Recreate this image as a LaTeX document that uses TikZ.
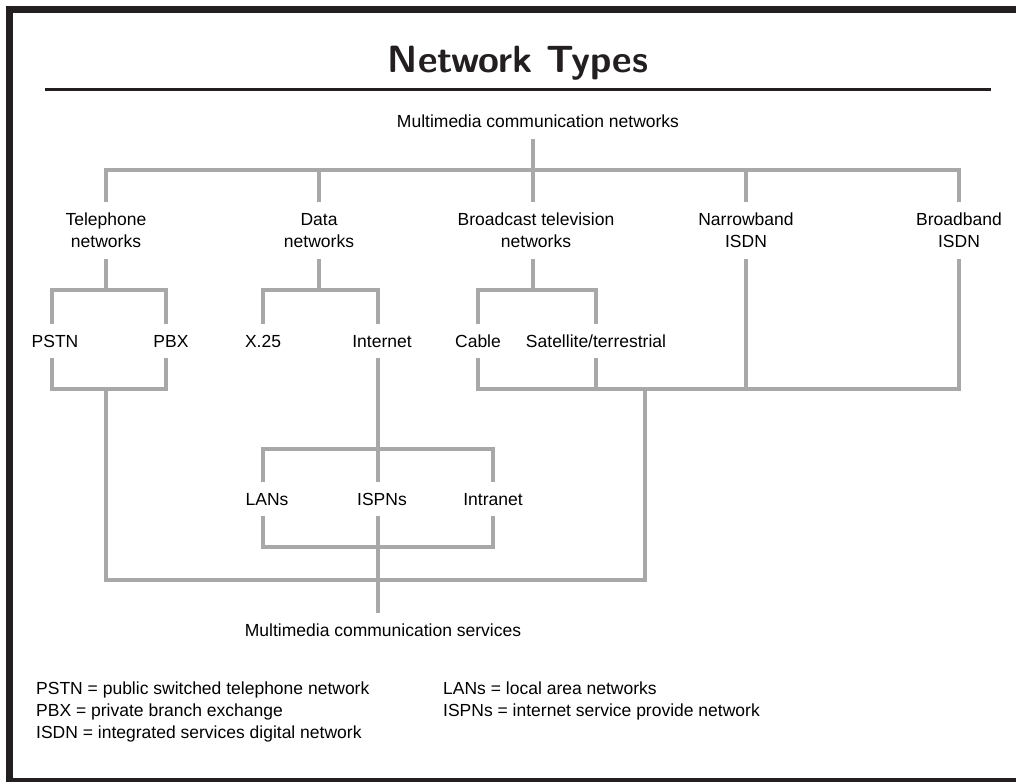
\documentclass[tikz,border=0pt]{standalone}
\usepackage{fontspec}
\setmainfont{Liberation Sans}
\definecolor{inkdark}{RGB}{35,31,32}
\definecolor{linkgray}{RGB}{168,168,168}
\newcommand{\lblfont}{\fontsize{17.5}{22}\selectfont}
\tikzset{
  link/.style={draw=linkgray, line width=4.2pt, line join=miter},
  lbl/.style={font=\lblfont, inner sep=0pt, outer xsep=0pt, outer ysep=10pt,
              text height=13pt, text depth=1pt, anchor=base},
  % two-line labels are placed by the baseline of their last line
  lbltwo/.style={lbl, align=center, text height=35pt, text depth=2pt},
  keytext/.style={font=\lblfont, inner sep=0pt, align=left, anchor=base west},
}
\begin{document}
\begin{tikzpicture}[x=1pt, y=-1pt]
\useasboundingbox (0,0) rectangle (1016,781);
\clip (0,0) rectangle (1016,781);

% outer frame and title
\draw[inkdark, line width=7pt] (9.5,9.5) rectangle (1030,781.5);
\node[font=\sffamily\bfseries\fontsize{38}{40}\selectfont, inner sep=0pt, anchor=base, text=inkdark]
  (title) at (518,73) {Network Types};
\coordinate (ruleL) at (45,89.5);
\coordinate (ruleR) at (991,89.5);
\draw[inkdark, line width=3pt] (ruleL) -- (ruleR);

% labels
\node[lbl] (top) at (538,128) {Multimedia communication networks};
\node[lbltwo] (tel) at (106,247) {Telephone\\networks};
\node[lbltwo] (data) at (319,247) {Data\\networks};
\node[lbltwo] (bc) at (536,247) {Broadcast television\\networks};
\node[lbltwo] (nb) at (746,247) {Narrowband\\ISDN};
\node[lbltwo] (bb) at (959,247) {Broadband\\ISDN};
\node[lbl] (pstn) at (55,347) {PSTN};
\node[lbl] (pbx) at (171,347) {PBX};
\node[lbl] (x25) at (263,347) {X.25};
\node[lbl] (inet) at (382,347) {Internet};
\node[lbl] (cable) at (478,347) {Cable};
\node[lbl] (sat) at (596,347) {Satellite/terrestrial};
\node[lbl] (lans) at (267,505) {LANs};
\node[lbl] (ispn) at (382,505) {ISPNs};
\node[lbl] (intra) at (493,505) {Intranet};
\node[lbl] (svc) at (383,636) {Multimedia communication services};

% connector ends that sit slightly left of their label centres
\coordinate (topS) at ([xshift=-5pt]top.south);
\coordinate (bcN) at ([xshift=-3pt]bc.north);
\coordinate (bcS) at ([xshift=-3pt]bc.south);
\coordinate (pstnN) at ([xshift=-3pt]pstn.north);
\coordinate (pstnS) at ([xshift=-3pt]pstn.south);
\coordinate (pbxN) at ([xshift=-5pt]pbx.north);
\coordinate (pbxS) at ([xshift=-5pt]pbx.south);
\coordinate (inetN) at ([xshift=-4pt]inet.north);
\coordinate (inetS) at ([xshift=-4pt]inet.south);
\coordinate (lansN) at ([xshift=-4pt]lans.north);
\coordinate (lansS) at ([xshift=-4pt]lans.south);
\coordinate (ispnN) at ([xshift=-4pt]ispn.north);
\coordinate (ispnS) at ([xshift=-4pt]ispn.south);
\coordinate (svcN) at ([xshift=-5pt]svc.north);

% bus levels
\coordinate (busTop) at (0,170);
\coordinate (busMid) at (0,290);
\coordinate (busLow) at (0,389);
\coordinate (busLanUp) at (0,449);
\coordinate (busLanDn) at (0,547);
\coordinate (busBig) at (0,580);
\coordinate (rightStem) at (645,389);

% top level
\draw[link] (topS) -- (bcN);
\draw[link] (tel.north) |- (bb.north |- busTop) -- (bb.north);
\draw[link] (data.north) -- (data.north |- busTop);
\draw[link] (nb.north) -- (nb.north |- busTop);

% telephone networks
\draw[link] (tel.south) -- (tel.south |- busMid);
\draw[link] (pstnN) |- (pbxN |- busMid) -- (pbxN);
\draw[link] (pstnS) |- (pbxS |- busLow) -- (pbxS);

% data networks
\draw[link] (data.south) -- (data.south |- busMid);
\draw[link] (x25.north) |- (inetN |- busMid) -- (inetN);
\draw[link] (inetS) -- (inetS |- busLanUp);

% broadcast and ISDN
\draw[link] (bcS) -- (bcS |- busMid);
\draw[link] (cable.north) |- (sat.north |- busMid) -- (sat.north);
\draw[link] (cable.south) |- (bb.south |- busLow) -- (bb.south);
\draw[link] (sat.south) -- (sat.south |- busLow);
\draw[link] (nb.south) -- (nb.south |- busLow);

% internet branches
\draw[link] (lansN) |- (intra.north |- busLanUp) -- (intra.north);
\draw[link] (ispnN) -- (ispnN |- busLanUp);
\draw[link] (lansS) |- (intra.south |- busLanDn) -- (intra.south);
\draw[link] (ispnS) -- (svcN);

% collecting bus into services
\draw[link] (tel.south |- busLow) |- (rightStem |- busBig) -- (rightStem);

% key
\node[keytext] (keyA) at (36,738) {PSTN = public switched telephone network\\PBX = private branch exchange\\ISDN = integrated services digital network};
\node[keytext] (keyB) at (443,716) {LANs = local area networks\\ISPNs = internet service provide network};
\end{tikzpicture}
\end{document}
